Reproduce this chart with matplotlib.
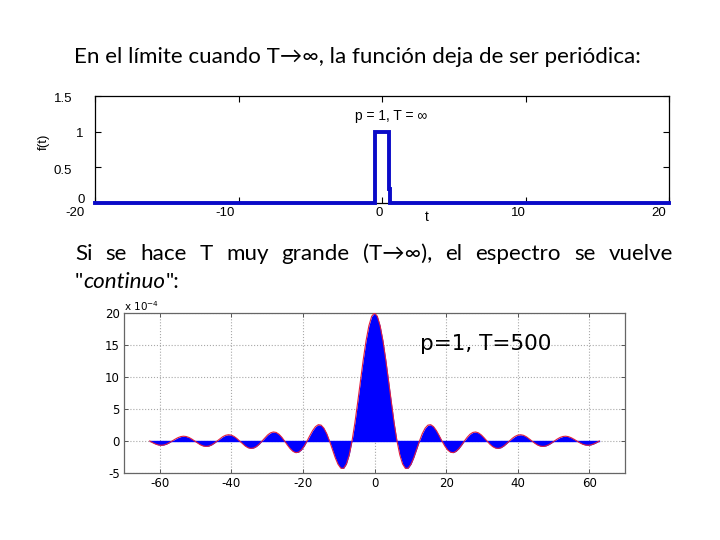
import numpy as np
import matplotlib
matplotlib.use("Agg")
import matplotlib.pyplot as plt

plt.rcParams["axes.unicode_minus"] = False

# ---------------- data ----------------
# top plot: single rectangular pulse (p = 1, T = inf)
t_pulse = [-20, -0.5, -0.5, 0.5, 0.5, 0.55, 0.55, 20]
f_pulse = [0, 0, 1, 1, 0.2, 0.2, 0, 0]
top_xticks = [-20, -10, 0, 10, 20]
top_xticklabels = ["-20", "-10", "0", "10", "20"]
top_yticks = [0, 0.5, 1, 1.5]
top_yticklabels = ["0", "0.5", "1", "1.5"]

# bottom plot: spectrum (units of 1e-4), p = 1, T = 500
omega_min, omega_max = -62.83, 62.83
spectrum = [
    0.0, -0.25, -0.46, -0.61, -0.67, -0.63, -0.49, -0.27, 0.0, 0.27, 0.51, 0.68, 0.75, 0.70, 0.55, 0.30,
    0.0, -0.31, -0.58, -0.77, -0.85, -0.80, -0.62, -0.34, 0.0, 0.35, 0.67, 0.89, 0.98, 0.92, 0.72, 0.40,
    0.0, -0.41, -0.78, -1.05, -1.16, -1.09, -0.86, -0.48, 0.0, 0.50, 0.95, 1.27, 1.41, 1.34, 1.06, 0.59,
    0.0, -0.63, -1.20, -1.62, -1.82, -1.74, -1.39, -0.78, 0.0, 0.85, 1.64, 2.24, 2.55, 2.48, 2.00, 1.15,
    0.0, -1.30, -2.57, -3.62, -4.24, -4.28, -3.60, -2.17, 0.0, 2.78, 6.00, 9.41, 12.73, 15.68, 18.01, 19.49,
    20.0,
    19.49, 18.01, 15.68, 12.73, 9.41, 6.00, 2.78, 0.0, -2.17, -3.60, -4.28, -4.24, -3.62, -2.57, -1.30, 0.0,
    1.15, 2.00, 2.48, 2.55, 2.24, 1.64, 0.85, 0.0, -0.78, -1.39, -1.74, -1.82, -1.62, -1.20, -0.63, 0.0,
    0.59, 1.06, 1.34, 1.41, 1.27, 0.95, 0.50, 0.0, -0.48, -0.86, -1.09, -1.16, -1.05, -0.78, -0.41, 0.0,
    0.40, 0.72, 0.92, 0.98, 0.89, 0.67, 0.35, 0.0, -0.34, -0.62, -0.80, -0.85, -0.77, -0.58, -0.31, 0.0,
    0.30, 0.55, 0.70, 0.75, 0.68, 0.51, 0.27, 0.0, -0.27, -0.49, -0.63, -0.67, -0.61, -0.46, -0.25, 0.0,
]
bot_xticks = [-60, -40, -20, 0, 20, 40, 60]
bot_yticks = [-5, 0, 5, 10, 15, 20]

title_text = "En el límite cuando T\u2192\u221e, la función deja de ser periódica:"
line1_words = ["Si", "se", "hace", "T", "muy", "grande", "(T\u2192\u221e),", "el", "espectro", "se", "vuelve"]

# ---------------- figure ----------------
W, H = 720, 540
fig = plt.figure(figsize=(7.2, 5.4), dpi=100)
fig.patch.set_facecolor("white")
renderer = fig.canvas.get_renderer()
SLIDE_FONT = ["Lato", "DejaVu Sans"]


def px(x, y):
    return x / W, 1 - y / H


# title line, fitted to its width on the slide
tt = fig.text(*px(74, 63), title_text, fontsize=14, family=SLIDE_FONT, va="baseline", ha="left")
w = tt.get_window_extent(renderer).width
fs = 14 * 567 / w
tt.set_fontsize(fs)

# justified line
word_objs = [fig.text(0, 0, wd, fontsize=fs, family=SLIDE_FONT, va="baseline", ha="left") for wd in line1_words]
widths = [o.get_window_extent(renderer).width for o in word_objs]
x0, x1 = 75, 673
gap = (x1 - x0 - sum(widths)) / (len(widths) - 1)
x = x0
for o, wd in zip(word_objs, widths):
    o.set_position(px(x, 260))
    x += wd + gap

# second line: "continuo":
parts = [('"', "normal"), ("continuo", "italic"), ('":', "normal")]
x = 75
for s, st in parts:
    o = fig.text(*px(x, 288), s, fontsize=fs, family=SLIDE_FONT, style=st, va="baseline", ha="left")
    x += o.get_window_extent(renderer).width

# ---------------- top axes ----------------
ax1 = fig.add_axes([95 / W, 1 - 203 / H, 574 / W, 107 / H])
ax1.plot(t_pulse, f_pulse, color="#0a0ac8", lw=2.8, clip_on=False, solid_joinstyle="miter", zorder=5)
ax1.set_xlim(-20, 20)
ax1.set_ylim(0, 1.5)
ax1.set_xticks(top_xticks)
ax1.set_yticks(top_yticks)
ax1.set_xticklabels([])
ax1.set_yticklabels([])
ax1.tick_params(direction="in", length=4, width=0.8, top=True, right=True)
for sp in ax1.spines.values():
    sp.set_linewidth(0.9)
    sp.set_color("black")

TICKFONT = "Liberation Sans"
# tick labels (placed as in the slide screenshot)
xoff_px = [-20, -13, -3, -7, -10]
for v, lab, dx in zip(top_xticks, top_xticklabels, xoff_px):
    ax1.text(v + dx / 14.35, -0.095, lab, transform=ax1.get_xaxis_transform(),
             ha="center", va="center", fontsize=9.5, family=TICKFONT, clip_on=False)
ylab_x = {"0": -0.024, "0.5": -0.04, "1": -0.026, "1.5": -0.04}
ylab_ha = {"0": "center", "0.5": "right", "1": "center", "1.5": "right"}
ylab_dy = {"0": 0.03, "0.5": -0.03, "1": -0.02, "1.5": -0.03}
for v, lab in zip(top_yticks, top_yticklabels):
    ax1.text(ylab_x[lab], v / 1.5 + ylab_dy[lab], lab, transform=ax1.transAxes,
             ha=ylab_ha[lab], va="center", fontsize=9.5, family=TICKFONT, clip_on=False)
ax1.text(0.516, 0.813, "p = 1, T = \u221e", transform=ax1.transAxes, ha="center", va="center",
         fontsize=10, family=["Liberation Sans", "DejaVu Sans"])
fig.text(*px(44, 142), "f(t)", rotation=90, ha="center", va="center", fontsize=9.5, family=TICKFONT)
fig.text(*px(427, 217), "t", ha="center", va="center", fontsize=10, family=TICKFONT)

# ---------------- bottom axes ----------------
ax2 = fig.add_axes([124 / W, 1 - 473 / H, 501 / W, 160 / H])
omega = np.linspace(omega_min, omega_max, len(spectrum))
vals = np.array(spectrum)
ax2.fill_between(omega, 0, vals, color="#0000ff", lw=0, zorder=3)
ax2.plot([omega[0], omega[-1]], [0, 0], color="#0000ff", lw=1.0, zorder=3)
ax2.plot(omega, vals, color="#e02040", lw=0.8, zorder=4)
ax2.set_xlim(-70, 70)
ax2.set_ylim(-5, 20)
ax2.set_xticks(bot_xticks)
ax2.set_yticks(bot_yticks)
ax2.grid(True, linestyle=":", color="#a8a8a8", lw=0.8)
ax2.set_axisbelow(True)
ax2.tick_params(direction="in", length=3, width=0.7, top=True, right=True, color="#555555",
                labelsize=8.5, pad=3)
for lab in ax2.get_xticklabels() + ax2.get_yticklabels():
    lab.set_family("DejaVu Sans")
for sp in ax2.spines.values():
    sp.set_linewidth(0.9)
    sp.set_color("#666666")
ax2.text(0, 1.0, "x 10$^{-4}$", transform=ax2.transAxes, ha="left", va="bottom", fontsize=7.5,
         family="DejaVu Sans")
fig.text(*px(486, 344), "p=1, T=500", ha="center", va="center", fontsize=15.5, family="DejaVu Sans")

fig.savefig("out.png", dpi=100, facecolor="white")
